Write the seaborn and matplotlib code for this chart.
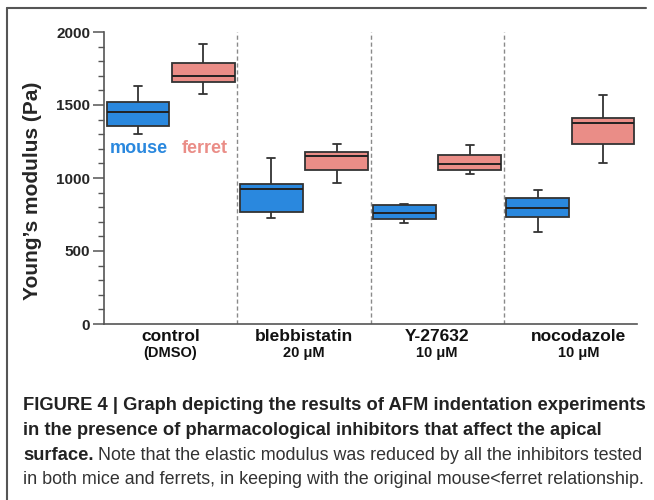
# encoding:utf-8
# Description: AFM 压痕实验箱型图 (Figure 4)
import numpy as np
import pandas as pd
import matplotlib
matplotlib.use('Agg')
import matplotlib.pyplot as plt
import seaborn as sns
from matplotlib.lines import Line2D
from matplotlib.ticker import MultipleLocator

# 处理组 / 剂量
treatments = ['control', 'blebbistatin', 'Y-27632', 'nocodazole']
doses = ['(DMSO)', '20 μM', '10 μM', '10 μM']
species = ['mouse', 'ferret']

# 每个箱子: 下须, Q1, 中位数, Q3, 上须 (Pa)
mouse_box = [
    [1299, 1358, 1454, 1519, 1631],
    [726, 767, 923, 957, 1136],
    [694, 721, 760, 812, 825],
    [633, 730, 796, 866, 920],
]
ferret_box = [
    [1576, 1655, 1696, 1791, 1920],
    [966, 1054, 1150, 1177, 1236],
    [1027, 1057, 1095, 1156, 1229],
    [1104, 1233, 1374, 1408, 1569],
]

blue = '#2a88de'
salmon = '#ea8d87'

rows = []
for t, m, f in zip(treatments, mouse_box, ferret_box):
    for v in m:
        rows.append({'treatment': t, 'species': 'mouse', 'modulus': v})
    for v in f:
        rows.append({'treatment': t, 'species': 'ferret', 'modulus': v})
df = pd.DataFrame(rows)

sns.set_style('ticks')
plt.rcParams['font.family'] = ['Liberation Sans', 'DejaVu Sans']

fig = plt.figure(figsize=(6.54, 5.0), dpi=100)
ax = fig.add_axes([104 / 654, 1 - 324 / 500, 533 / 654, 292 / 500])

sns.boxplot(data=df, x='treatment', y='modulus', hue='species',
            order=treatments, hue_order=species, palette=[blue, salmon],
            whis=(0, 100), width=0.98, gap=0.04, saturation=1,
            linecolor='#333333', linewidth=1.3, legend=False,
            capwidths=0.06, medianprops={'color': '#222222', 'linewidth': 1.4},
            ax=ax)

ax.set_xlim(-0.5, 3.5)
ax.set_ylim(0, 2000)
ax.yaxis.set_major_locator(MultipleLocator(500))
ax.yaxis.set_minor_locator(MultipleLocator(100))
ax.tick_params(axis='y', which='major', length=8, width=1.1, color='#555555',
               labelsize=11, pad=2)
ax.tick_params(axis='y', which='minor', length=4, width=1.0, color='#555555')
for lab in ax.get_yticklabels():
    lab.set_fontweight('bold')
ax.set_xticks([])
ax.set_xlabel('')
ax.set_ylabel('Young’s modulus (Pa)', fontsize=15, fontweight='bold')
ax.yaxis.set_label_coords(-0.116, 0.455)

sns.despine(ax=ax)
for s in ['left', 'bottom']:
    ax.spines[s].set_color('#555555')
    ax.spines[s].set_linewidth(1.2)

# 分隔虚线
for xs in [0.5, 1.5, 2.5]:
    ax.axvline(xs, color='#8a8a8a', linestyle=(0, (3, 2)), linewidth=1.0, zorder=0)

# 物种标注
ax.text(-0.24, 1200, 'mouse', color=blue, fontsize=13, fontweight='bold',
        ha='center', va='center')
ax.text(0.255, 1200, 'ferret', color=salmon, fontsize=13, fontweight='bold',
        ha='center', va='center')

# 横轴两行标签
trans = ax.get_xaxis_transform()
x_shift = [0, 0, 0, 0.06]
for i, (t, d) in enumerate(zip(treatments, doses)):
    ax.text(i + x_shift[i], -17 / 292, t, transform=trans, ha='center',
            va='baseline', fontsize=12.5, fontweight='bold', color='#111111')
    ax.text(i + x_shift[i], -33 / 292, d, transform=trans, ha='center',
            va='baseline', fontsize=10.5, fontweight='bold', color='#111111')

# 外框 (左、上)
fig.add_artist(Line2D([7 / 654, 7 / 654], [0, 1 - 8 / 500], color='#555555',
                      linewidth=1.5, transform=fig.transFigure))
fig.add_artist(Line2D([7 / 654, 646 / 654], [1 - 8 / 500, 1 - 8 / 500],
                      color='#555555', linewidth=1.5, transform=fig.transFigure))

# 图注
cap_x = 23 / 654
bold_size = 13.2
reg_size = 12.9
fig.text(cap_x, 1 - 410 / 500,
         'FIGURE 4 | Graph depicting the results of AFM indentation experiments',
         fontsize=bold_size, fontweight='bold', color='#222222', va='baseline')
fig.text(cap_x, 1 - 435 / 500,
         'in the presence of pharmacological inhibitors that affect the apical',
         fontsize=bold_size, fontweight='bold', color='#222222', va='baseline')
t_bold = fig.text(cap_x, 1 - 460 / 500, 'surface.', fontsize=bold_size,
                  fontweight='bold', color='#222222', va='baseline')
renderer = fig.canvas.get_renderer()
bb = t_bold.get_window_extent(renderer=renderer)
fig.text(bb.x1 / fig.bbox.width + 4 / 654, 1 - 460 / 500,
         'Note that the elastic modulus was reduced by all the inhibitors tested',
         fontsize=reg_size, color='#333333', va='baseline')
fig.text(cap_x, 1 - 484 / 500,
         'in both mice and ferrets, in keeping with the original mouse<ferret relationship.',
         fontsize=reg_size, color='#333333', va='baseline')

fig.savefig('out.png', dpi=100)
